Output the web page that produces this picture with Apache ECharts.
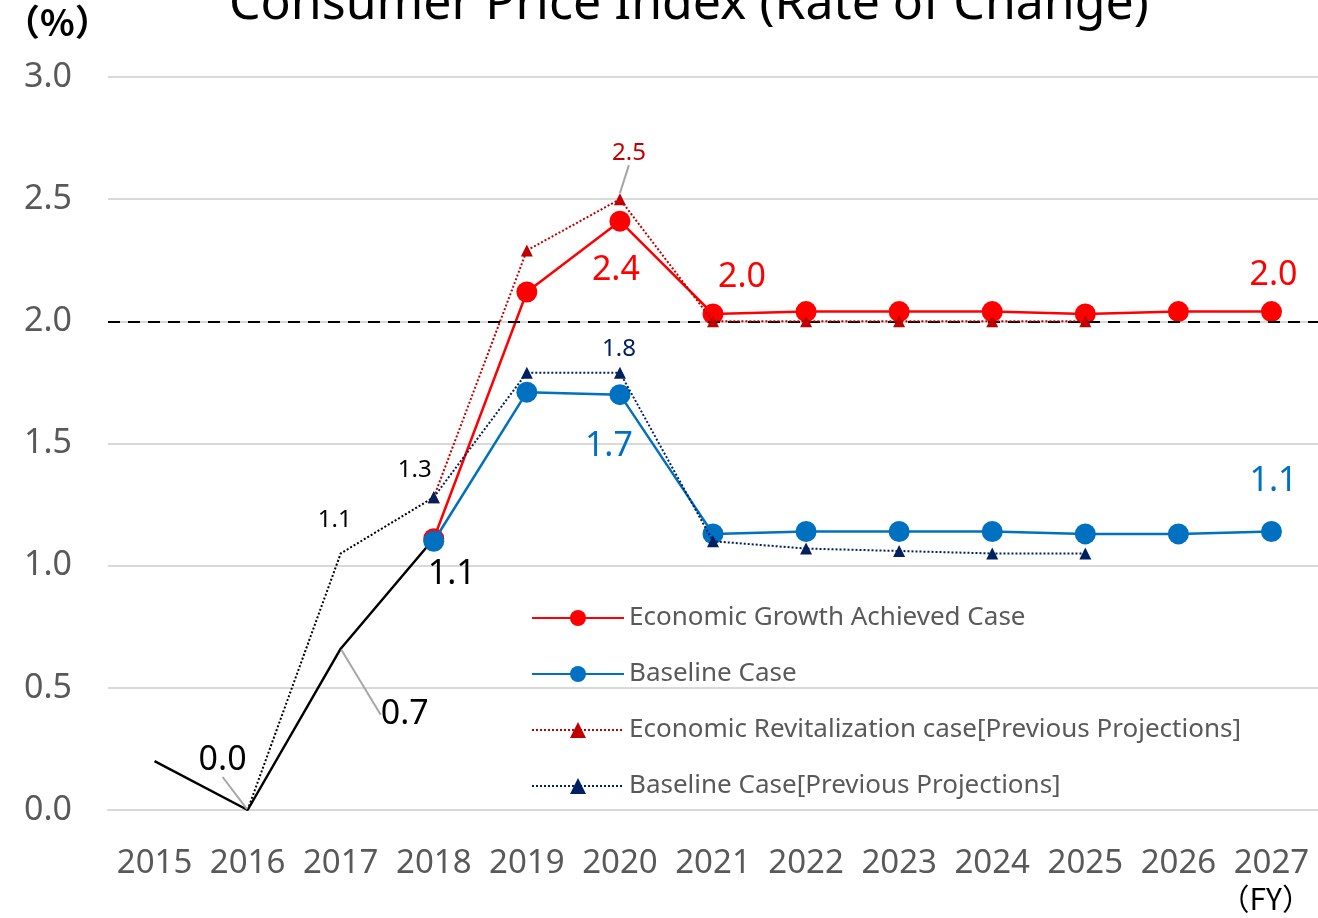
<!DOCTYPE html>
<html>
<head>
<meta charset="utf-8">
<script src="https://cdn.jsdelivr.net/npm/echarts@6/dist/echarts.min.js"></script>
<style>
  html, body { margin: 0; padding: 0; background: #fff; }
  #main { width: 1318px; height: 918px; }
</style>
</head>
<body>
<div id="main"></div>
<script>
// 年度
var years = ['2015', '2016', '2017', '2018', '2019', '2020', '2021', '2022', '2023', '2024', '2025', '2026', '2027'];
// 実績
var actual = [0.20, 0.00, 0.66, 1.11, null, null, null, null, null, null, null, null, null];
// 実績（前回）
var prevActual = [null, 0.00, 1.05, 1.28, null, null, null, null, null, null, null, null, null];
// 成長実現ケース
var growthCase = [null, null, null, 1.11, 2.12, 2.41, 2.03, 2.04, 2.04, 2.04, 2.03, 2.04, 2.04];
// ベースラインケース
var baselineCase = [null, null, null, 1.10, 1.71, 1.70, 1.13, 1.14, 1.14, 1.14, 1.13, 1.13, 1.14];
// 前回 経済再生ケース
var prevRevital = [null, null, null, 1.28, 2.29, 2.50, 2.00, 2.00, 2.00, 2.00, 2.00, null, null];
// 前回 ベースラインケース
var prevBaseline = [null, null, null, 1.28, 1.79, 1.79, 1.10, 1.07, 1.06, 1.05, 1.05, null, null];
var target = 2.0;

var FONT = 'Noto Sans';

// ラベル付きデータ
function withLabels(values, labels) {
    return values.map(function (v, i) {
        var lb = labels[i];
        if (!lb || v == null) return v;
        return {
            value: v,
            label: {
                show: true,
                position: 'inside',
                color: lb.color,
                fontSize: lb.size,
                fontFamily: FONT,
                formatter: function (p) { return Number(p.value).toFixed(1); }
            },
            labelLine: {
                show: !!lb.line,
                lineStyle: { color: '#a6a6a6', width: 2 }
            }
        };
    });
}
// ラベル位置
function layoutOf(labels) {
    return function (p) {
        var lb = labels[p.dataIndex];
        return lb ? { dx: lb.offset[0], dy: lb.offset[1] } : {};
    };
}

var actualLabels = {
    1: { offset: [-25, -50], color: '#000', size: 34, line: true },
    2: { offset: [64, 66], color: '#000', size: 34, line: true },
    3: { offset: [18, 36], color: '#000', size: 34 }
};
var prevActualLabels = {
    2: { offset: [-6, -33], color: '#000', size: 24 },
    3: { offset: [-19, -27], color: '#000', size: 24 }
};
var growthLabels = {
    5: { offset: [-4, 49], color: '#ff0000', size: 34 },
    6: { offset: [29, -37], color: '#ff0000', size: 34 },
    12: { offset: [2, -36], color: '#ff0000', size: 34 }
};
var baselineLabels = {
    5: { offset: [-11, 52], color: '#0070c0', size: 34 },
    12: { offset: [2, -50], color: '#0070c0', size: 34 }
};
var revitalLabels = {
    5: { offset: [9, -46], color: '#c00000', size: 24, line: true }
};
var prevBaseLabels = {
    5: { offset: [-1, -23], color: '#002060', size: 24 }
};

var myChart = echarts.init(document.getElementById('main'));
var option = {
    backgroundColor: '#fff',
    animation: false,
    title: {
        text: 'Consumer Price Index (Rate of Change)',
        left: 224,
        top: -25,
        textStyle: { fontFamily: FONT, fontSize: 50, fontWeight: 'normal', color: '#000' }
    },
    grid: { left: 108, right: 0, top: 77, bottom: 108, containLabel: false },
    legend: {
        orient: 'vertical',
        left: 531,
        top: 605,
        padding: 0,
        itemWidth: 92,
        itemHeight: 20,
        itemGap: 30,
        textStyle: { fontFamily: FONT, fontSize: 26, color: '#595959' },
        data: ['Economic Growth Achieved Case', 'Baseline Case',
               'Economic Revitalization case[Previous Projections]', 'Baseline Case[Previous Projections]']
    },
    xAxis: {
        type: 'category',
        data: years,
        boundaryGap: true,
        axisLine: { show: true, lineStyle: { color: '#d9d9d9', width: 2 } },
        axisTick: { show: false },
        axisLabel: { interval: 0, color: '#595959', fontFamily: FONT, fontSize: 33, margin: 37 }
    },
    yAxis: {
        type: 'value',
        min: 0,
        max: 3,
        interval: 0.5,
        axisLine: { show: false },
        axisTick: { show: false },
        splitLine: { lineStyle: { color: '#d9d9d9', width: 2 } },
        axisLabel: {
            color: '#595959', fontFamily: FONT, fontSize: 34, margin: 36,
            formatter: function (v) { return v.toFixed(1); }
        }
    },
    graphic: [
        { type: 'text', left: 4, top: 4, style: { text: '（%）', font: 'bold 36px "Noto Sans CJK JP"', fill: '#000' } },
        { type: 'text', right: 6, top: 884, style: { text: '（FY）', font: '30px "Noto Sans CJK JP"', fill: '#000' } }
    ],
    series: [
        {
            name: 'actual',
            type: 'line',
            data: withLabels(actual, actualLabels),
            labelLayout: layoutOf(actualLabels),
            symbol: 'circle',
            symbolSize: 2,
            itemStyle: { color: 'transparent' },
            lineStyle: { color: '#000', width: 2.5 },
            z: 2,
            markLine: {
                silent: true,
                symbol: 'none',
                label: { show: false },
                lineStyle: { color: '#000', type: [12, 8], width: 2 },
                data: [{ yAxis: target }]
            }
        },
        {
            name: 'prevActual',
            type: 'line',
            data: withLabels(prevActual, prevActualLabels),
            labelLayout: layoutOf(prevActualLabels),
            symbol: 'circle',
            symbolSize: 2,
            itemStyle: { color: 'transparent' },
            lineStyle: { color: '#000', width: 2, type: 'dotted' },
            z: 2
        },
        {
            name: 'Economic Growth Achieved Case',
            type: 'line',
            data: withLabels(growthCase, growthLabels),
            labelLayout: layoutOf(growthLabels),
            symbol: 'circle',
            symbolSize: 21,
            itemStyle: { color: '#ff0000' },
            lineStyle: { color: '#ff0000', width: 2.5 },
            z: 3
        },
        {
            name: 'Baseline Case',
            type: 'line',
            data: withLabels(baselineCase, baselineLabels),
            labelLayout: layoutOf(baselineLabels),
            symbol: 'circle',
            symbolSize: 21,
            itemStyle: { color: '#0070c0' },
            lineStyle: { color: '#0070c0', width: 2.5 },
            z: 4
        },
        {
            name: 'Economic Revitalization case[Previous Projections]',
            type: 'line',
            data: withLabels(prevRevital, revitalLabels),
            labelLayout: layoutOf(revitalLabels),
            symbol: 'triangle',
            symbolSize: 12,
            itemStyle: { color: '#c00000' },
            lineStyle: { color: '#c00000', width: 2, type: 'dotted' },
            z: 5
        },
        {
            name: 'Baseline Case[Previous Projections]',
            type: 'line',
            data: withLabels(prevBaseline, prevBaseLabels),
            labelLayout: layoutOf(prevBaseLabels),
            symbol: 'triangle',
            symbolSize: 12,
            itemStyle: { color: '#002060' },
            lineStyle: { color: '#002060', width: 2, type: 'dotted' },
            z: 6
        }
    ]
};
myChart.setOption(option);
</script>
</body>
</html>
